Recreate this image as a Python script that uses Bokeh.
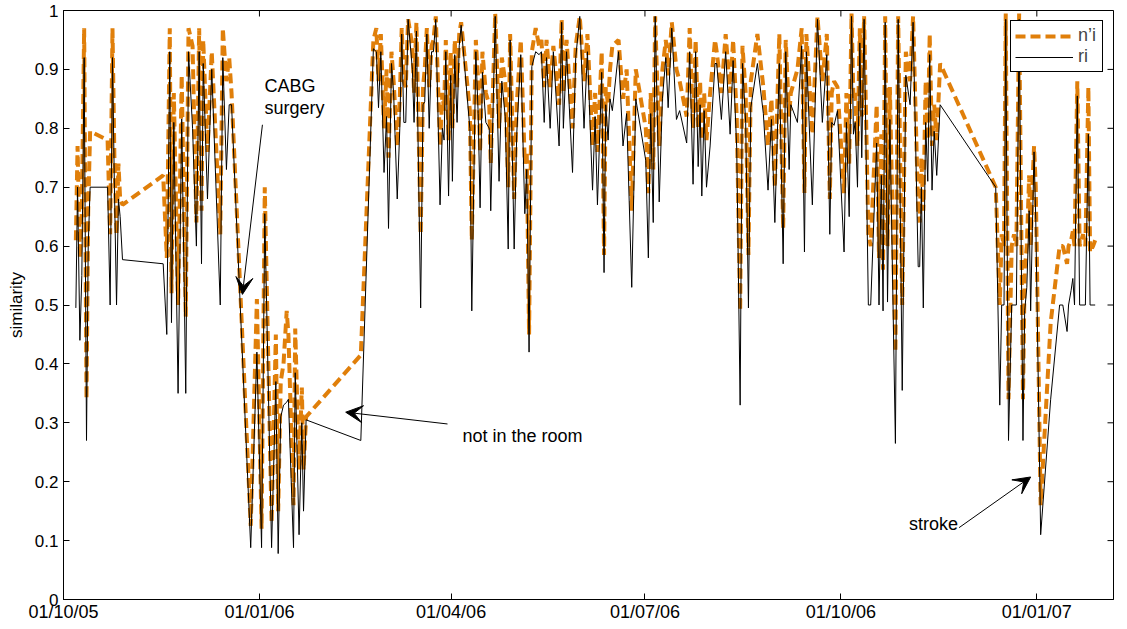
import math
import pandas as pd
from bokeh.plotting import figure
from bokeh.models import (ColumnDataSource, FixedTicker, Range1d, Legend,
                          LegendItem, Arrow, VeeHead, Label)
from bokeh.embed import file_html
from bokeh.resources import INLINE

# ---------------- data ----------------
start_date = "2005-10-01"

# days after 01/10/05 at which the similarity was computed
day_offset = [
    5.8, 6.6, 7.7, 8.6, 9.7, 10.8, 11.6, 12.5,
    20.7, 21.9, 23.0, 23.9, 24.9, 25.8, 26.6, 27.7,
    46.8, 48.5, 49.9, 50.7, 51.8, 53.8, 55.5, 57.4,
    58.7, 60.6, 62.4, 63.7, 64.8, 65.6, 67.6, 69.6,
    73.6, 74.8, 76.5, 77.8, 78.9, 87.9, 90.8, 93.0,
    94.5, 97.7, 99.7, 100.8, 102.0, 103.3, 104.8, 105.6,
    108.0, 108.8, 110.6, 111.9, 112.7, 113.9, 139.6, 145.5,
    146.9, 147.9, 149.0, 150.5, 151.7, 152.6, 154.0, 155.0,
    156.7, 157.9, 158.8, 159.8, 160.7, 161.8, 163.8, 164.6,
    165.7, 166.7, 167.7, 168.8, 169.6, 170.6, 171.7, 172.8,
    173.7, 174.8, 176.8, 177.9, 178.7, 179.5, 180.8, 181.8,
    182.6, 183.7, 184.8, 185.8, 186.7, 190.8, 191.7, 193.6,
    194.7, 195.6, 196.7, 198.3, 199.9, 200.6, 202.7, 204.5,
    205.8, 207.4, 208.8, 209.7, 211.6, 212.8, 214.7, 216.6,
    217.5, 218.6, 219.9, 221.7, 223.3, 224.4, 225.7, 226.8,
    228.5, 230.0, 232.7, 233.9, 234.7, 236.2, 239.0, 240.5,
    242.4, 244.4, 246.0, 248.4, 249.6, 250.7, 252.7, 253.8,
    254.6, 255.7, 256.6, 257.7, 260.6, 262.7, 264.4, 266.8,
    268.7, 273.4, 274.6, 275.7, 276.9, 277.8, 279.7, 281.2,
    282.8, 283.9, 285.6, 287.8, 289.3, 292.6, 294.0, 295.6,
    296.8, 298.0, 298.9, 299.7, 300.8, 301.9, 303.6, 305.9,
    306.7, 308.9, 310.9, 313.0, 314.4, 316.1, 317.7, 318.8,
    320.3, 321.6, 322.7, 325.8, 328.6, 330.8, 332.4, 334.0,
    336.1, 337.9, 339.1, 340.7, 341.5, 344.6, 346.6, 347.9,
    348.8, 351.6, 354.0, 356.3, 358.4, 359.8, 360.7, 361.8,
    363.4, 366.5, 367.6, 368.9, 370.0, 370.9, 371.7, 372.8,
    373.9, 374.8, 375.9, 377.9, 379.0, 381.8, 382.9, 384.0,
    384.8, 385.8, 386.9, 388.0, 390.6, 391.9, 393.8, 395.5,
    397.5, 398.9, 401.3, 402.0, 402.8, 403.7, 404.8, 405.8,
    406.7, 407.8, 408.8, 410.0, 411.6, 437.7, 439.6, 440.5,
    441.6, 442.4, 443.7, 445.2, 446.3, 447.4, 448.7, 450.5,
    451.3, 452.3, 453.4, 454.1, 454.9, 455.7, 456.5, 458.8,
    463.5, 467.7, 469.2, 471.2, 471.9, 473.1, 473.9, 474.7,
    476.0, 477.1, 478.7, 479.8, 481.2, 482.0, 483.4, 484.4,
]

ri = [
    .495, .70, .44, .55, .92, .27, .60, .70,
    .70, .50, .92, .70, .50, .68, .65, .577,
    .57, .45, .93, .47, .81, .35, .816, .35,
    .93, .80, .60, .93, .57, .91, .68, .90,
    .50, .92, .73, .84, .84, .088, .42, .088,
    .655, .088, .37, .078, .31, .33, .335, .34,
    .088, .385, .11, .30, .15, .305, .27, .935,
    .93, .835, .93, .725, .82, .63, .91, .86,
    .68, .80, .96, .81, .81, .985, .90, .81,
    .965, .725, .495, .84, .845, .96, .80, .93,
    .93, .985, .67, .80, .78, .93, .685, .89,
    .71, .925, .81, .94, .975, .80, .49, .93,
    .825, .665, .895, .81, .80, .66, .99, .71,
    .88, .82, .595, .95, .595, .79, .925, .655,
    .73, .42, .905, .93, .925, .93, .81, .92,
    .80, .93, .77, .98, .80, .93, .725, .92,
    .99, .80, .93, .695, .82, .67, .895, .555,
    .84, .78, .85, .83, .93, .77, .825, .53,
    .85, .745, .58, .825, .64, .99, .675, .85,
    .92, .835, .97, .815, .83, .775, .93, .705,
    .93, .735, .84, .685, .83, .70, .77, .91,
    .91, .815, .93, .79, .915, .765, .33, .91,
    .81, .495, .835, .91, .825, .695, .815, .64,
    .91, .57, .93, .73, .84, .81, .94, .59,
    .93, .67, .985, .81, .925, .62, .81, .805,
    .83, .59, .81, .65, .99, .79, .81, .70,
    .945, .75, .985, .50, .50, .775, .50, .72,
    .49, .98, .505, .815, .265, .985, .355, .89,
    .84, .98, .565, .565, .70, .495, .81, .71,
    .925, .695, .795, .72, .84, .70, .33, .50,
    .50, .985, .27, .50, .50, .50, .985, .27,
    .49, .53, .66, .49, .63, .76, .645, .11,
    .34, .50, .50, .455, .50, .525, .545, .50,
    .855, .50, .50, .50, .79, .50, .50, .50,
]

n_prime_i = [
    .61, .77, .58, .66, .97, .34, .66, .795,
    .78, .62, .97, .75, .62, .74, .68, .67,
    .72, .58, .97, .52, .86, .50, .89, .48,
    .97, .94, .64, .97, .66, .95, .76, .93,
    .62, .97, .88, .92, .86, .125, .51, .12,
    .70, .13, .45, .15, .37, .40, .49, .45,
    .16, .46, .22, .36, .22, .31, .415, .95,
    .97, .88, .96, .80, .90, .75, .93, .88,
    .77, .85, .97, .88, .87, .985, .94, .86,
    .98, .80, .62, .87, .90, .97, .87, .94,
    .95, .99, .77, .86, .83, .95, .78, .93,
    .80, .95, .87, .96, .98, .83, .61, .95,
    .88, .76, .93, .86, .84, .74, .995, .80,
    .92, .88, .70, .96, .68, .84, .95, .74,
    .76, .45, .93, .97, .94, .95, .87, .95,
    .87, .94, .84, .985, .86, .95, .80, .94,
    .99, .88, .96, .77, .86, .76, .93, .585,
    .87, .84, .90, .94, .95, .85, .90, .66,
    .90, .80, .69, .86, .73, .99, .77, .90,
    .95, .89, .98, .90, .88, .82, .97, .80,
    .95, .80, .88, .78, .86, .78, .86, .95,
    .93, .86, .96, .86, .95, .82, .49, .94,
    .86, .585, .88, .96, .87, .77, .85, .70,
    .96, .63, .95, .82, .86, .90, .97, .69,
    .96, .79, .99, .88, .96, .68, .86, .88,
    .87, .69, .86, .74, .995, .85, .86, .77,
    .97, .82, .99, .62, .60, .84, .58, .79,
    .56, .99, .60, .87, .42, .99, .50, .93,
    .88, .99, .66, .64, .75, .66, .88, .78,
    .96, .77, .84, .78, .91, .70, .50, .62,
    .60, .995, .34, .60, .62, .60, .995, .34,
    .56, .60, .72, .60, .70, .77, .70, .16,
    .47, .60, .60, .57, .60, .61, .625, .60,
    .88, .60, .62, .60, .87, .59, .60, .61,
]

x_tick_dates = ["2005-10-01", "2006-01-01", "2006-04-01",
                "2006-07-01", "2006-10-01", "2007-01-01"]
x_tick_labels = ["01/10/05", "01/01/06", "01/04/06",
                 "01/07/06", "01/10/06", "01/01/07"]
y_ticks = [0, 0.1, 0.2, 0.3, 0.4, 0.5, 0.6, 0.7, 0.8, 0.9, 1]
y_tick_labels = ["0", "0.1", "0.2", "0.3", "0.4", "0.5",
                 "0.6", "0.7", "0.8", "0.9", "1"]

# ---------------- styling ----------------
FONT = "Liberation Sans"
ORANGE = "#E07F0A"
base = pd.Timestamp(start_date)


def day_ms(days):
    return (base + pd.Timedelta(days=days)).value / 1e6


X_END_DAY = 493
x_ms = [day_ms(d) for d in day_offset]
src = ColumnDataSource(dict(x=x_ms, ri=ri, nri=n_prime_i))

p = figure(width=1119, height=624, x_axis_type="datetime",
           output_backend="svg", toolbar_location=None,
           x_range=Range1d(day_ms(0), day_ms(X_END_DAY)), y_range=Range1d(0, 1),
           min_border_left=63, min_border_right=6, min_border_top=10,
           min_border_bottom=22)
p.xgrid.visible = False
p.ygrid.visible = False
p.outline_line_color = "black"
p.outline_line_alpha = 1
p.outline_line_width = 1
p.background_fill_color = "white"
p.border_fill_color = "white"


def style_axis(ax, size):
    ax.major_tick_in = 6
    ax.major_tick_out = 0
    ax.minor_tick_line_color = None
    ax.axis_line_color = "black"
    ax.major_tick_line_color = "black"
    ax.major_label_text_font = FONT
    ax.major_label_text_color = "black"
    ax.major_label_text_font_size = size


x_tick_ms = [pd.Timestamp(d).value / 1e6 for d in x_tick_dates]

xax = p.below[0]
style_axis(xax, "18px")
xax.ticker = FixedTicker(ticks=x_tick_ms)
xax.major_label_overrides = dict(zip(x_tick_ms, x_tick_labels))
xax.major_label_standoff = 2

yax = p.left[0]
style_axis(yax, "17px")
yax.ticker = FixedTicker(ticks=y_ticks)
yax.major_label_overrides = dict(zip(y_ticks, y_tick_labels))
yax.major_label_standoff = 5
yax.axis_label = "similarity"
yax.axis_label_text_font = FONT
yax.axis_label_text_color = "black"
yax.axis_label_text_font_style = "normal"
yax.axis_label_text_font_size = "17px"
yax.axis_label_standoff = 6

# inward tick marks on the top and right edges of the box
p.scatter(x_tick_ms, [1] * len(x_tick_ms), marker="dash", size=12,
          angle=math.pi / 2, line_color="black", line_width=1)
p.scatter([day_ms(X_END_DAY)] * len(y_ticks), y_ticks, marker="dash", size=12,
          line_color="black", line_width=1)

r_o = p.line("x", "nri", source=src, line_color=ORANGE, line_width=4,
             line_dash="10 5")
r_b = p.line("x", "ri", source=src, line_color="black", line_width=1)

legend = Legend(items=[LegendItem(label="n\u2019i", renderers=[r_o]),
                       LegendItem(label="ri", renderers=[r_b])],
                location="top_right", border_line_color="black",
                border_line_width=1, border_line_alpha=1,
                background_fill_color="white", background_fill_alpha=1,
                label_text_font=FONT, label_text_font_size="18px",
                glyph_width=58, glyph_height=20, label_standoff=5,
                padding=4, spacing=0, margin=10)
p.add_layout(legend)

# ---------------- annotations ----------------
text_kw = dict(text_font=FONT, text_font_size="18px", text_color="black",
               text_baseline="alphabetic")
p.add_layout(Label(x=day_ms(94.4), y=0.872, text="CABG", **text_kw))
p.add_layout(Label(x=day_ms(94.4), y=0.835, text="surgery", **text_kw))
p.add_layout(Label(x=day_ms(187.3), y=0.278, text="not in the room", **text_kw))
p.add_layout(Label(x=day_ms(397.0), y=0.128, text="stroke", **text_kw))

head = dict(size=17, fill_color="black", line_color="black")
p.add_layout(Arrow(x_start=day_ms(93.4), y_start=0.806, x_end=day_ms(84.0),
                   y_end=0.518, line_width=1, end=VeeHead(**head)))
p.add_layout(Arrow(x_start=day_ms(180.3), y_start=0.298, x_end=day_ms(132.5),
                   y_end=0.318, line_width=1, end=VeeHead(**head)))
p.add_layout(Arrow(x_start=day_ms(420.5), y_start=0.122, x_end=day_ms(454.1),
                   y_end=0.208, line_width=1, end=VeeHead(**head)))

open("out.html", "w").write(file_html(p, INLINE))
